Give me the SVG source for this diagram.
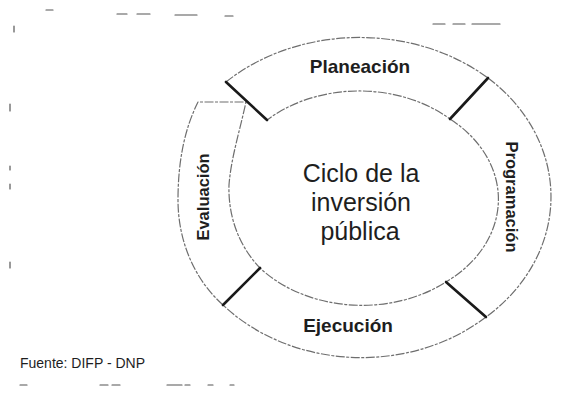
<svg xmlns="http://www.w3.org/2000/svg" width="576" height="394" viewBox="0 0 576 394">
<style>
.seg{fill:none;stroke:#6e6e6e;stroke-width:1.2;stroke-dasharray:9 1.5 3 1.5;stroke-linejoin:round}
.div{stroke:#1a1a1a;stroke-width:2.6;stroke-linecap:round}
.lab{font-family:"Liberation Sans",Arial,sans-serif;font-size:19px;font-weight:bold;fill:#1e1e1e;text-anchor:middle}
.rot{font-size:16.5px}
.ctr{font-family:"Liberation Sans",Arial,sans-serif;font-size:25px;fill:#1e1e1e;text-anchor:middle}
.src{font-family:"Liberation Sans",Arial,sans-serif;font-size:14px;fill:#1e1e1e}
.noise{stroke:#555;stroke-width:1.2;stroke-linecap:round}
</style>
<rect width="576" height="394" fill="#ffffff"/>
<g id="noise">
<line class="noise" x1="46" y1="10" x2="53" y2="10"/>
<line class="noise" x1="117" y1="14" x2="127" y2="14"/>
<line class="noise" x1="137" y1="14" x2="150" y2="14"/>
<line class="noise" x1="175" y1="15" x2="197" y2="15"/>
<line class="noise" x1="225" y1="16" x2="233" y2="16"/>
<line class="noise" x1="433" y1="24" x2="445" y2="24"/>
<line class="noise" x1="453" y1="24" x2="465" y2="24"/>
<line class="noise" x1="472" y1="24" x2="500" y2="24"/>
<line class="noise" x1="14" y1="26" x2="14" y2="32"/>
<line class="noise" x1="10" y1="104" x2="10" y2="111"/>
<line class="noise" x1="10" y1="166" x2="10" y2="170"/>
<line class="noise" x1="10" y1="184" x2="10" y2="189"/>
<line class="noise" x1="10" y1="262" x2="10" y2="268"/>
<line class="noise" x1="20" y1="385" x2="27" y2="385"/>
<line class="noise" x1="100" y1="385" x2="108" y2="385"/>
<line class="noise" x1="112" y1="385" x2="120" y2="385"/>
<line class="noise" x1="167" y1="385" x2="182" y2="385"/>
<line class="noise" x1="185" y1="385" x2="190" y2="385"/>
<line class="noise" x1="208" y1="385" x2="213" y2="385"/>
<line class="noise" x1="230" y1="385" x2="234" y2="385"/>
</g>
<g id="planeacion">
<path class="seg" d="M226,82 A192,158 0 0 1 488,78 L450,119 A133,104 0 0 0 267,120 Z"/>
<text class="lab" x="360" y="73">Planeación</text>
</g>
<g id="programacion">
<path class="seg" d="M488,78 A185,158 0 0 1 486,317 L446,282 A133,104 0 0 0 450,119 Z"/>
<text class="lab rot" transform="translate(506,197) rotate(90)" x="0" y="0">Programación</text>
</g>
<g id="ejecucion">
<path class="seg" d="M486,317 A186,158 0 0 1 223,305 L260,268 A133,104 0 0 0 446,282 Z"/>
<text class="lab" x="348" y="332">Ejecución</text>
</g>
<g id="evaluacion">
<path class="seg" d="M223,305 C195,280 178,242 178,200 C178,160 185,128 198,102 L246,102 C240,130 231,158 229,185 C228,215 238,245 260,268 Z"/>
<text class="lab rot" transform="translate(209,197) rotate(-90)" x="0" y="0">Evaluación</text>
</g>
<g id="centro">
<text class="ctr" x="361" y="182">Ciclo de la</text>
<text class="ctr" x="361" y="211">inversión</text>
<text class="ctr" x="360" y="240">pública</text>
</g>
<g id="connectors">
<line class="div" x1="226" y1="82" x2="267" y2="120"/>
<line class="div" x1="488" y1="78" x2="450" y2="119"/>
<line class="div" x1="260" y1="268" x2="223" y2="305"/>
<line class="div" x1="446" y1="282" x2="486" y2="317"/>
</g>
<text class="src" x="20" y="368">Fuente: DIFP - DNP</text>
</svg>
